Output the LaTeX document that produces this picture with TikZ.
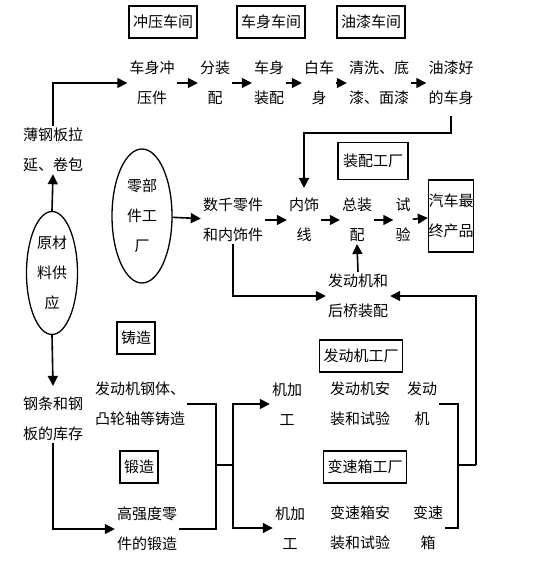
\documentclass[tikz,border=0pt]{standalone}
\usepackage{fontspec}
\newfontfamily\cjk{Noto Sans CJK SC}
\usetikzlibrary{arrows.meta,shapes}
\tikzset{
  basic/.style = {font=\cjk\fontsize{15pt}{30pt}\selectfont, align=center, inner sep=2pt},
  frame/.style = {basic, draw, line width=1.3pt, inner xsep=4pt, minimum height=32pt},
  stage/.style = {basic},
  factory/.style = {basic, draw, ellipse, line width=1.3pt, inner sep=0pt},
  flow/.style = {line width=1.6pt, -{Triangle[length=10pt,width=10pt]}},
  bracket line/.style = {line width=1.6pt}
}

\begin{document}
\begin{tikzpicture}[x=1pt,y=-1pt]
\useasboundingbox (0,0) rectangle (554,583);
\node[frame] (press shop) at (163,22) {冲压车间};
\node[frame] (body shop) at (271,22) {车身车间};
\node[frame] (paint shop) at (371,22) {油漆车间};
\node[stage] (s1) at (152,83) {车身冲\\压件};
\node[stage] (s2) at (215,83) {分装\\配};
\node[stage] (s3) at (269,83) {车身\\装配};
\node[stage] (s4) at (319,83) {白车\\身};
\node[stage] (s5) at (379,83) {清洗、底\\漆、面漆};
\node[stage] (s6) at (451,83) {油漆好\\的车身};
\node[stage] (sheet) at (53,150) {薄钢板拉\\延、卷包};
\node[factory, minimum width=51pt, minimum height=123pt] (raw) at (52,273) {原材\\料供\\应};
\node[factory, minimum width=60pt, minimum height=134pt] (parts) at (142,216) {零部\\件工\\厂};
\node[frame, minimum height=37pt, inner xsep=5pt] (assembly plant) at (373,161) {装配工厂};
\node[stage] (a1) at (233,220) {数千零件\\和内饰件};
\node[stage] (a2) at (304,220) {内饰\\线};
\node[stage] (a3) at (357,220) {总装\\配};
\node[stage] (a4) at (403,220) {试\\验};
\node[frame, inner xsep=0pt, minimum height=72pt] (car) at (451,216) {汽车最\\终产品};
\node[stage] (eng asm) at (358,296) {发动机和\\后桥装配};
\node[frame] (casting) at (136,338) {铸造};
\node[stage] (stock) at (53,419) {钢条和钢\\板的库存};
\node[stage] (cast parts) at (140,404) {发动机钢体、\\凸轮轴等铸造};
\node[frame] (forging) at (139,467) {锻造};
\node[stage] (forge parts) at (147,529) {高强度零\\件的锻造};
\node[frame] (engine plant) at (361,356) {发动机工厂};
\node[stage] (m1) at (287,404) {机加\\工};
\node[stage] (e1) at (360,404) {发动机安\\装和试验};
\node[stage] (e2) at (422,404) {发动\\机};
\node[frame] (gear plant) at (365,467) {变速箱工厂};
\node[stage] (m2) at (290,528) {机加\\工};
\node[stage] (g1) at (360,528) {变速箱安\\装和试验};
\node[stage] (g2) at (428,528) {变速\\箱};
\coordinate (bend) at (303,133);
\coordinate (jl) at (216,465);
\coordinate (jr) at (233,465);
\coordinate (kl) at (458,465);
\coordinate (kr) at (476,465);
\draw[flow] (sheet.north) |- (s1.west);
\draw[flow] (s1) -- (s2);
\draw[flow] (s2) -- (s3);
\draw[flow] (s3) -- (s4);
\draw[flow] (s4) -- (s5);
\draw[flow] (s5) -- (s6);
\draw[flow] ([yshift=-9pt]s6.south) |- (bend) -| ([yshift=8pt]a2.north);
\draw[flow] (raw.north) -- (sheet.south);
\draw[flow] (raw.south) -- ([yshift=9pt]stock.north);
\draw[flow] (parts) -- (a1);
\draw[flow] (a1) -- (a2);
\draw[flow] (a2) -- (a3);
\draw[flow] (a3) -- (a4);
\draw[flow] (a4) -- (car);
\draw[flow] (a1.south) |- (eng asm.west);
\draw[flow] (eng asm.north) -- (a3.south);
\draw[flow] (stock.south) |- (forge parts.west);
\draw[bracket line] (cast parts.east) -| (jl) |- (forge parts.east);
\draw[bracket line] (jl) -- (jr);
\draw[flow] (jr) |- (m1.west);
\draw[flow] (jr) |- (m2.west);
\draw[bracket line] (e2.east) -| (kl) |- (g2.east);
\draw[bracket line] (kl) -- (kr);
\draw[flow] (kr) |- (eng asm.east);
\end{tikzpicture}
\end{document}
